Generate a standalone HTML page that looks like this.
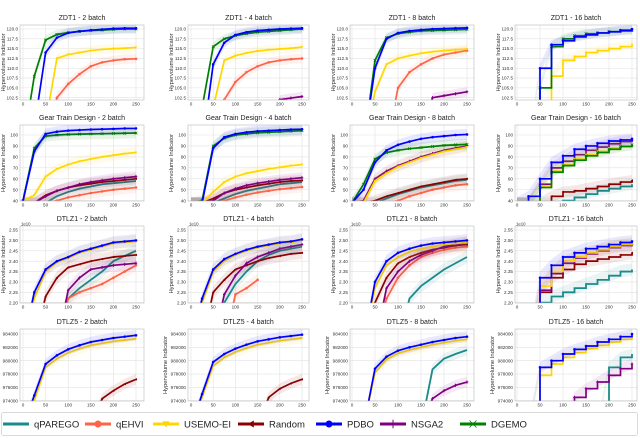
<!DOCTYPE html>
<html><head><meta charset="utf-8"><style>
html,body{margin:0;padding:0;background:#fff;}
svg{display:block;font-family:"Liberation Sans","DejaVu Sans",sans-serif;}
</style></head><body>
<svg id="fig" width="640" height="438" viewBox="0 0 640 438"></svg>
<script>
// x positions (evaluations) shared by all series
const evals = [0,25,50,75,100,125,150,175,200,225,250];
const xTicks = [0,50,100,150,200,250];

// ZDT1
const zdt1b2_dgemo = [90,108,117.2,118.6,119.1,119.4,119.6,119.7,119.9,120,120];
const zdt1b2_pdbo  = [90,95,114,117.8,119,119.4,119.7,119.9,120.1,120.2,120.2];
const zdt1b2_usemo = [90,90,96,112.5,113.5,114,114.5,114.8,115,115.1,115.3];
const zdt1b2_qehvi = [90,90,90,102.5,106,108.5,110.5,111.5,112,112.3,112.4];
const zdt1b4_dgemo = [90,100,115.5,117.5,118.3,118.8,119.2,119.4,119.6,119.8,120];
const zdt1b4_pdbo  = [90,90,111,116.5,118.5,119.2,119.6,119.8,120,120.1,120.2];
const zdt1b4_usemo = [90,90,100,112,113.2,113.9,114.4,114.7,114.9,115.1,115.4];
const zdt1b4_qehvi = [90,90,90,102,106.5,109,110.5,111.5,112,112.3,112.5];
const zdt1b4_nsga2 = [90,90,90,90,90,90,90,90,102,102.4,102.8];
const zdt1b8_pdbo  = [90,90,110,117.5,119,119.5,119.8,120,120.1,120.2,120.3];
const zdt1b8_dgemo = [90,90,112,117.8,118.8,119.2,119.5,119.6,119.7,119.8,119.9];
const zdt1b8_usemo = [90,90,104,111,112.5,113.2,113.8,114.2,114.5,114.7,114.9];
const zdt1b8_qehvi = [90,90,90,90,105,109,111,112.5,113.5,114,114.5];
const zdt1b8_nsga2 = [90,90,90,90,90,90,90,102.5,103,103.5,104];
const zdt1b16_pdbo  = [90,90,110,116,117,118,118.5,119,119.3,119.7,120];
const zdt1b16_dgemo = [90,90,105,115.5,117.5,118.3,118.8,119,119.3,119.5,119.7];
const zdt1b16_usemo = [90,90,90,108,112,113,114,114.5,115,115.5,116];
// Gear Train Design
const gearb2_pdbo   = [40,85,101,103,104,104.5,105,105.3,105.6,106,106];
const gearb2_dgemo  = [40,88,99,100,100.5,100.8,101,101.2,101.4,101.6,101.8];
const gearb2_usemo  = [40,45,62,69,73,76,78,80,81.5,83,84];
const gearb2_nsga2  = [38,38,44,49,52,55,57,58.5,60,61,62];
const gearb2_random = [38,38,45,49,52,54,55.5,57,58,59,60];
const gearb2_qpar   = [38,38,38,44,48,51,53,55,56,57,58];
const gearb2_qehvi  = [38,38,38,40,43,45,47,48.5,50,51,52];
const gearb4_pdbo   = [38,38,88,98,101,102.5,103.5,104,104.5,105,105.3];
const gearb4_dgemo  = [38,40,90,97,100,101,102,102.5,103,103.5,104];
const gearb4_usemo  = [38,38,48,57,62,65,67,69,70.5,72,73];
const gearb4_nsga2  = [38,38,40,47,51,54,56,57.5,59,60,61];
const gearb4_random = [38,38,42,47,50,52,54,55.5,57,58,58.5];
const gearb4_qpar   = [38,38,38,42,46,49,51,53,55,56,57];
const gearb4_qehvi  = [38,38,38,40,43,45.5,47.5,49,50.5,51.5,52.5];
const gearb8_pdbo   = [38,50,75,86,91,94,96.5,98,99,100,100.5];
const gearb8_dgemo  = [38,55,78,84,86,87.5,88.5,89.5,90.5,91,91.5];
const gearb8_nsga2  = [38,40,60,67,72,76,80,83,86,88,90];
const gearb8_usemo  = [38,38,58,65,71,75,79,82,85,87,89];
const gearb8_random = [38,38,40,44,47,50,53,55,57,59,60];
const gearb8_qpar   = [38,38,38,42,46,49,52,54,56,58,59];
const gearb8_qehvi  = [38,38,38,38,40,44,47,50,52,54,55];
const gearb16_pdbo   = [38,44,60,75,81,87,90,92.5,94.5,95.5,96.5];
const gearb16_nsga2  = [38,38,55,70,76,82,86,89,92,94,95];
const gearb16_usemo  = [38,38,53,67,73,78,82,85,88,90,91.5];
const gearb16_dgemo  = [38,38,52,66,72,77,81,84,87,89.5,91];
const gearb16_random = [38,38,38,44,48,49,51,53,55,57,58.5];
const gearb16_qpar   = [38,38,38,38,40,43,46,49,51,53,55];
// DTLZ1 (x1e10)
const dtlz1b2_pdbo   = [2.0,2.25,2.36,2.40,2.42,2.445,2.46,2.475,2.49,2.495,2.50];
const dtlz1b2_usemo  = [2.0,2.22,2.35,2.395,2.415,2.44,2.455,2.47,2.485,2.49,2.495];
const dtlz1b2_random = [2.0,2.0,2.23,2.32,2.37,2.385,2.40,2.41,2.42,2.425,2.43];
const dtlz1b2_nsga2  = [2.0,2.0,2.0,2.0,2.26,2.32,2.36,2.37,2.38,2.385,2.39];
const dtlz1b2_qpar   = [2.0,2.0,2.0,2.0,2.22,2.27,2.31,2.35,2.40,2.425,2.45];
const dtlz1b2_qehvi  = [2.0,2.0,2.0,2.0,2.22,2.25,2.27,2.29,2.32,2.35,2.38];
const dtlz1b4_pdbo   = [2.0,2.22,2.36,2.41,2.435,2.455,2.47,2.48,2.49,2.495,2.505];
const dtlz1b4_usemo  = [2.0,2.20,2.35,2.40,2.43,2.45,2.465,2.475,2.485,2.49,2.50];
const dtlz1b4_random = [2.0,2.0,2.25,2.31,2.36,2.38,2.40,2.415,2.425,2.435,2.44];
const dtlz1b4_nsga2  = [2.0,2.0,2.0,2.24,2.33,2.39,2.42,2.44,2.46,2.47,2.48];
const dtlz1b4_qpar   = [2.0,2.0,2.0,2.20,2.29,2.35,2.40,2.43,2.45,2.46,2.47];
const dtlz1b4_qehvi  = [2.0,2.0,2.0,2.0,2.24,2.27,2.31,null,null,null,null];
const dtlz1b8_pdbo   = [2.0,2.0,2.30,2.40,2.44,2.46,2.475,2.485,2.49,2.495,2.50];
const dtlz1b8_usemo  = [2.0,2.0,2.27,2.38,2.42,2.445,2.46,2.47,2.48,2.485,2.49];
const dtlz1b8_random = [2.0,2.0,2.20,2.32,2.39,2.42,2.44,2.455,2.465,2.475,2.48];
const dtlz1b8_nsga2  = [2.0,2.0,2.0,2.27,2.35,2.40,2.43,2.45,2.47,2.48,2.49];
const dtlz1b8_qehvi  = [2.0,2.0,2.0,2.22,2.32,2.38,2.42,2.44,2.455,2.465,2.47];
const dtlz1b8_qpar   = [2.0,2.0,2.0,2.0,2.0,2.22,2.28,2.32,2.36,2.39,2.42];
const dtlz1b16_pdbo   = [2.0,2.0,2.32,2.38,2.42,2.44,2.46,2.47,2.48,2.49,2.495];
const dtlz1b16_usemo  = [2.0,2.0,2.28,2.35,2.40,2.42,2.44,2.455,2.47,2.48,2.485];
const dtlz1b16_nsga2  = [2.0,2.0,2.26,2.34,2.39,2.415,2.435,2.45,2.465,2.475,2.48];
const dtlz1b16_random = [2.0,2.0,2.25,2.32,2.36,2.385,2.40,2.41,2.42,2.43,2.44];
const dtlz1b16_qpar   = [2.0,2.0,2.20,2.23,2.25,2.27,2.29,2.31,2.33,2.35,2.36];
// DTLZ5 (thousands)
const dtlz5b2_pdbo   = [970,974.8,979.5,980.8,981.7,982.3,982.8,983.1,983.4,983.6,983.8];
const dtlz5b2_usemo  = [970,974,979,980.3,981.2,981.8,982.3,982.6,982.9,983.1,983.3];
const dtlz5b2_random = [970,970,970,970,970,970,970,974.3,975.5,976.5,977.2];
const dtlz5b4_pdbo   = [970,975,979.8,981,981.8,982.4,982.9,983.2,983.5,983.7,983.9];
const dtlz5b4_usemo  = [970,974.5,979.2,980.5,981.3,981.9,982.4,982.7,983,983.2,983.4];
const dtlz5b4_random = [970,970,970,970,970,970,970,974.5,975.8,976.6,977.2];
const dtlz5b8_pdbo   = [970,970,978.8,980.6,981.5,982,982.4,982.8,983.1,983.4,983.6];
const dtlz5b8_usemo  = [970,970,978.2,980.2,981.1,981.6,982,982.4,982.7,983,983.2];
const dtlz5b8_qpar   = [970,970,970,970,970,970,970,978.7,980.3,981,981.6];
const dtlz5b8_nsga2  = [970,970,970,970,970,970,970,974.3,975.5,976.3,976.8];
const dtlz5b16_pdbo   = [970,970,979,980,981,981.7,982.2,982.8,983.2,983.6,984];
const dtlz5b16_usemo  = [970,970,977.8,979.5,980.5,981.2,981.8,982.3,982.8,983.2,983.5];
const dtlz5b16_qpar   = [970,970,970,970,970,970,970,970,979,980.5,981];
const dtlz5b16_nsga2  = [970,970,970,970,970,974.5,975.8,976.8,977.8,978.8,979.5];

const zdtTicks = [102.5,105.0,107.5,110.0,112.5,115.0,117.5,120.0];
const gearTicks = [40,50,60,70,80,90,100];
const dtlz1Ticks = [2.20,2.25,2.30,2.35,2.40,2.45,2.50,2.55];
const dtlz5Ticks = [974,976,978,980,982,984];

const colors = {qpar:'#1b8a8a',qehvi:'#ff6347',usemo:'#ffd700',random:'#8b0000',pdbo:'#0000ff',nsga2:'#800080',dgemo:'#008000'};
const marks = {qpar:'none',qehvi:'circle',usemo:'tri',random:'left',pdbo:'circle',nsga2:'star',dgemo:'x'};
const order = ['qpar','qehvi','random','nsga2','usemo','dgemo','pdbo'];

const colX0 = [23,191,352,517], colX250 = [136,302,467,632];
const colL = [20,188,350,515], colR = [144,309,474,637];
const rowT = [25,125,226,329], rowB = [100,201,303,401];
const rowTickHi = [[120,29],[100,135],[2.55,230],[984,334]];
const rowTickLo = [[102.5,97.7],[40,200.7],[2.20,302.7],[974,400.7]];
const rowTicks = [zdtTicks,gearTicks,dtlz1Ticks,dtlz5Ticks];
const rowBand = [1.2,5,0.03,0.8];
const rowNames = ['ZDT1','Gear Train Design','DTLZ1','DTLZ5'];
const batches = [2,4,8,16];
const fmt = [v=>v.toFixed(1), v=>String(v), v=>v.toFixed(2), v=>String(Math.round(v*1000))];

const panelSeries = [
 [{pdbo:zdt1b2_pdbo,dgemo:zdt1b2_dgemo,usemo:zdt1b2_usemo,qehvi:zdt1b2_qehvi},
  {pdbo:zdt1b4_pdbo,dgemo:zdt1b4_dgemo,usemo:zdt1b4_usemo,qehvi:zdt1b4_qehvi,nsga2:zdt1b4_nsga2},
  {pdbo:zdt1b8_pdbo,dgemo:zdt1b8_dgemo,usemo:zdt1b8_usemo,qehvi:zdt1b8_qehvi,nsga2:zdt1b8_nsga2},
  {pdbo:zdt1b16_pdbo,dgemo:zdt1b16_dgemo,usemo:zdt1b16_usemo}],
 [{pdbo:gearb2_pdbo,dgemo:gearb2_dgemo,usemo:gearb2_usemo,nsga2:gearb2_nsga2,random:gearb2_random,qpar:gearb2_qpar,qehvi:gearb2_qehvi},
  {pdbo:gearb4_pdbo,dgemo:gearb4_dgemo,usemo:gearb4_usemo,nsga2:gearb4_nsga2,random:gearb4_random,qpar:gearb4_qpar,qehvi:gearb4_qehvi},
  {pdbo:gearb8_pdbo,dgemo:gearb8_dgemo,usemo:gearb8_usemo,nsga2:gearb8_nsga2,random:gearb8_random,qpar:gearb8_qpar,qehvi:gearb8_qehvi},
  {pdbo:gearb16_pdbo,dgemo:gearb16_dgemo,usemo:gearb16_usemo,nsga2:gearb16_nsga2,random:gearb16_random,qpar:gearb16_qpar}],
 [{pdbo:dtlz1b2_pdbo,usemo:dtlz1b2_usemo,random:dtlz1b2_random,nsga2:dtlz1b2_nsga2,qpar:dtlz1b2_qpar,qehvi:dtlz1b2_qehvi},
  {pdbo:dtlz1b4_pdbo,usemo:dtlz1b4_usemo,random:dtlz1b4_random,nsga2:dtlz1b4_nsga2,qpar:dtlz1b4_qpar,qehvi:dtlz1b4_qehvi},
  {pdbo:dtlz1b8_pdbo,usemo:dtlz1b8_usemo,random:dtlz1b8_random,nsga2:dtlz1b8_nsga2,qpar:dtlz1b8_qpar,qehvi:dtlz1b8_qehvi},
  {pdbo:dtlz1b16_pdbo,usemo:dtlz1b16_usemo,random:dtlz1b16_random,nsga2:dtlz1b16_nsga2,qpar:dtlz1b16_qpar}],
 [{pdbo:dtlz5b2_pdbo,usemo:dtlz5b2_usemo,random:dtlz5b2_random},
  {pdbo:dtlz5b4_pdbo,usemo:dtlz5b4_usemo,random:dtlz5b4_random},
  {pdbo:dtlz5b8_pdbo,usemo:dtlz5b8_usemo,qpar:dtlz5b8_qpar,nsga2:dtlz5b8_nsga2},
  {pdbo:dtlz5b16_pdbo,usemo:dtlz5b16_usemo,qpar:dtlz5b16_qpar,nsga2:dtlz5b16_nsga2}]
];

const NS='http://www.w3.org/2000/svg';
const svg=document.getElementById('fig');
function mk(tag,attrs,parent){const e=document.createElementNS(NS,tag);for(const k in attrs)e.setAttribute(k,attrs[k]);(parent||svg).appendChild(e);return e;}

function marker(g,type,x,y,c,s){
  let e;
  if(type==='circle'){e=mk('circle',{cx:x,cy:y,r:s,fill:c},g);}
  else if(type==='tri'){e=mk('polygon',{points:`${x-s},${y-s*0.8} ${x+s},${y-s*0.8} ${x},${y+s}`,fill:c},g);}
  else if(type==='left'){e=mk('polygon',{points:`${x-s},${y} ${x+s*0.8},${y-s} ${x+s*0.8},${y+s}`,fill:c},g);}
  else if(type==='star'){e=mk('path',{d:`M${x},${y-s*1.2}L${x},${y+s*1.2}M${x-s},${y}L${x+s},${y}`,stroke:c,'stroke-width':1},g);}
  else if(type==='x'){e=mk('path',{d:`M${x-s},${y-s}L${x+s},${y+s}M${x-s},${y+s}L${x+s},${y-s}`,stroke:c,'stroke-width':0.8},g);}
  if(e){}
}

for(let r=0;r<4;r++){for(let c=0;c<4;c++){
  const L=colL[c],R=colR[c],T=rowT[r],B=rowB[r];
  const xs=v=>colX0[c]+(colX250[c]-colX0[c])*v/250;
  const [hv,hp]=rowTickHi[r],[lv,lp]=rowTickLo[r];
  const ys=v=>lp+(hp-lp)*(v-lv)/(hv-lv);
  const g=mk('g',{});
  
  
  const t=mk('text',{x:(L+R)/2,y:T-5,'text-anchor':'middle','font-size':7,fill:'#222'},g);
  t.textContent=rowNames[r]+' - '+batches[c]+' batch';
  
  const cid='clip'+r+c;
  const cp=mk('clipPath',{id:cid},g);mk('rect',{x:L,y:T,width:R-L,height:B-T},cp);
  xTicks.forEach(v=>{const x=xs(v);
    const gl=mk('line',{x1:x,x2:x,y1:T,y2:B,stroke:'#e2e2e2','stroke-width':0.6},g);
    
    const tl=mk('text',{x:x,y:B+5.5,'text-anchor':'middle','font-size':4.6,fill:'#333'},g);
    tl.textContent=v;});
  rowTicks[r].forEach(v=>{const y=ys(v);
    const gl=mk('line',{x1:L,x2:R,y1:y,y2:y,stroke:'#e2e2e2','stroke-width':0.6},g);
    
    const tl=mk('text',{x:L-2,y:y+1.6,'text-anchor':'end','font-size':4.6,fill:'#333'},g);
    tl.textContent=fmt[r](v);});
  if(r===2){const s=mk('text',{x:L+1,y:T-0.5,'font-size':4.3,fill:'#333'},g);s.textContent='1e10';
    }
  const yl=mk('text',{x:0,y:0,'text-anchor':'middle','font-size':5.8,fill:'#333',transform:`translate(${L-(r===3?21:15)},${(T+B)/2}) rotate(-90)`},g);
  yl.textContent='Hypervolume Indicator';
  const pg=mk('g',{'clip-path':`url(#${cid})`},g);
  const S=panelSeries[r][c], step=(c===3);
  const bw=rowBand[r];
  order.forEach(k=>{ if(!S[k])return; const vals=S[k];
    const pts=[];vals.forEach((v,i)=>{if(v!==null)pts.push([xs(evals[i]),v]);});
    const up=pts.map(p=>p[0]+','+ys(p[1]+bw)), dn=pts.slice().reverse().map(p=>p[0]+','+ys(p[1]-bw));
    const band=mk('polygon',{points:up.concat(dn).join(' '),fill:colors[k],'fill-opacity':0.09},pg);
    
    let d='';pts.forEach((p,i)=>{const y=ys(p[1]);
      if(i===0)d+=`M${p[0]},${y}`;else if(step)d+=`H${p[0]}V${y}`;else d+=`L${p[0]},${y}`;});
    const ln=mk('path',{d:d,fill:'none',stroke:colors[k],'stroke-width':k==='qpar'?1.8:1.7},pg);
    
    if(marks[k]!=='none')pts.forEach(p=>marker(pg,marks[k],p[0],ys(p[1]),colors[k],1.3));
  });
  const fr=mk('rect',{x:L,y:T,width:R-L,height:B-T,fill:'none',stroke:'#bbb','stroke-width':0.6},g);
  
}}

const legNames=['qPAREGO','qEHVI','USEMO-EI','Random','PDBO','NSGA2','DGEMO'];
const legKeys=['qpar','qehvi','usemo','random','pdbo','nsga2','dgemo'];
const legX=[3,85,153,238,316,380,460];
const lg=mk('g',{});
const lb=mk('rect',{x:1.5,y:412.5,width:636,height:23,rx:2,fill:'#fff',stroke:'#ccc','stroke-width':0.7},lg);

legKeys.forEach((k,i)=>{
  const eg=mk('g',{},lg);
  const x=legX[i];
  mk('line',{x1:x,x2:x+26,y1:424,y2:424,stroke:colors[k],'stroke-width':3},eg);
  if(marks[k]!=='none')marker(eg,marks[k],x+13,424,colors[k],3.5);
  const t=mk('text',{x:x+31,y:427.5,'font-size':9.5,fill:'#222'},eg);t.textContent=legNames[i];
  
});
</script>
</body></html>
